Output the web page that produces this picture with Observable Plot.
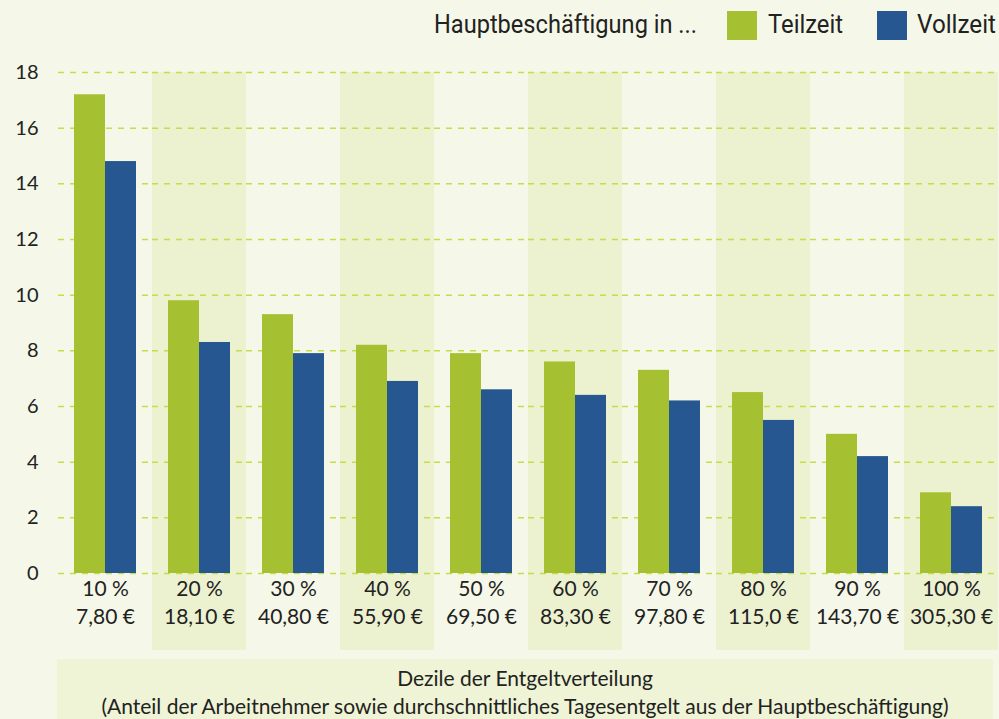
<!DOCTYPE html>
<html>
<head>
<meta charset="utf-8">
<script src="https://cdn.jsdelivr.net/npm/d3@7"></script>
<script src="https://cdn.jsdelivr.net/npm/@observablehq/plot@0.6"></script>
<style>
  html, body { margin: 0; padding: 0; background: #f5f8e8; }
  #wrap { position: relative; width: 999px; height: 719px; overflow: hidden; background: #f5f8e8; font-family: Lato, "Open Sans", sans-serif; color: #222; }
  #chart { position: absolute; left: 0; top: 0; }
  .lg { position: absolute; top: 8px; font-family: Roboto, sans-serif; font-size: 25px; line-height: 34px; color: #222; white-space: nowrap; transform-origin: left center; }
  .sw { position: absolute; top: 11px; width: 30px; height: 29px; }
  #caption { position: absolute; left: 57px; top: 659px; width: 936px; height: 60px; background: #eef4d5; text-align: center; font-size: 21px; line-height: 28px; padding-top: 5px; box-sizing: border-box; color: #222; }
</style>
</head>
<body>
<div id="wrap">
  <div id="chart"></div>
  <div id="legend"></div>
  <div id="caption"></div>
</div>
<script>
const deciles = ["10 %", "20 %", "30 %", "40 %", "50 %", "60 %", "70 %", "80 %", "90 %", "100 %"];
const entgelt = ["7,80 €", "18,10 €", "40,80 €", "55,90 €", "69,50 €", "83,30 €", "97,80 €", "115,0 €", "143,70 €", "305,30 €"];
const series = ["Teilzeit", "Vollzeit"];
const teilzeit = [17.2, 9.8, 9.3, 8.2, 7.9, 7.6, 7.3, 6.5, 5.0, 2.9];
const vollzeit = [14.8, 8.3, 7.9, 6.9, 6.6, 6.4, 6.2, 5.5, 4.2, 2.4];
const yTicks = [0, 2, 4, 6, 8, 10, 12, 14, 16, 18];
const legendTitle = "Hauptbeschäftigung in ...";
const captionLines = ["Dezile der Entgeltverteilung", "(Anteil der Arbeitnehmer sowie durchschnittliches Tagesentgelt aus der Hauptbeschäftigung)"];

const colors = ["#a5c030", "#265790"];

const bars = [];
deciles.forEach((d, i) => {
  bars.push({decile: d, type: series[0], value: teilzeit[i]});
  bars.push({decile: d, type: series[1], value: vollzeit[i]});
});
const labels = deciles.map((d, i) => ({decile: d, pct: d, eur: entgelt[i]}));
const bands = deciles.filter((d, i) => i % 2 === 1).map(d => ({decile: d, y1: yTicks[0], y2: yTicks[yTicks.length - 1]}));

const chart = Plot.plot({
  width: 999,
  height: 655,
  marginTop: 72,
  marginBottom: 82,
  marginLeft: 58,
  marginRight: 1,
  style: {background: "transparent", fontFamily: "Lato, 'Open Sans', sans-serif", fontSize: "20px", color: "#222"},
  fx: {domain: deciles, padding: 0, axis: null, label: null},
  x: {domain: series, paddingInner: 0, paddingOuter: 0.47, axis: null},
  y: {domain: [yTicks[0], yTicks[yTicks.length - 1]], ticks: yTicks, tickSize: 0, tickPadding: 20, label: null},
  color: {domain: series, range: colors},
  marks: [
    Plot.barY(bands, {fx: "decile", y1: "y1", y2: "y2", fill: "#ecf2d0", insetBottom: -77}),
    Plot.ruleY(yTicks, {stroke: "#c6dc48", strokeWidth: 1.5, strokeDasharray: "6 6"}),
    Plot.barY(bars, {fx: "decile", x: "type", y: "value", fill: "type"}),
    Plot.text(labels, {fx: "decile", text: "pct", frameAnchor: "bottom", dy: 22, fontSize: 21, fill: "#222"}),
    Plot.text(labels, {fx: "decile", text: "eur", frameAnchor: "bottom", dy: 50, fontSize: 21, fill: "#222"})
  ]
});
document.getElementById("chart").appendChild(chart);

// legend
const legend = document.getElementById("legend");
const t = document.createElement("div");
t.className = "lg";
t.style.left = "434px";
t.textContent = legendTitle;
legend.appendChild(t);
const tw = t.getBoundingClientRect().width;
t.style.transform = "scaleX(" + (263 / tw) + ")";
const swX = [727, 877];
const txX = [768, 917];
const txW = [75, 79];
series.forEach((s, i) => {
  const sw = document.createElement("div");
  sw.className = "sw";
  sw.style.left = swX[i] + "px";
  sw.style.background = colors[i];
  legend.appendChild(sw);
  const tx = document.createElement("div");
  tx.className = "lg";
  tx.style.left = txX[i] + "px";
  tx.textContent = s;
  legend.appendChild(tx);
  const w = tx.getBoundingClientRect().width;
  tx.style.transform = "scaleX(" + (txW[i] / w) + ")";
});

// caption
const cap = document.getElementById("caption");
captionLines.forEach(l => {
  const d = document.createElement("div");
  d.textContent = l;
  cap.appendChild(d);
});
</script>
</body>
</html>
